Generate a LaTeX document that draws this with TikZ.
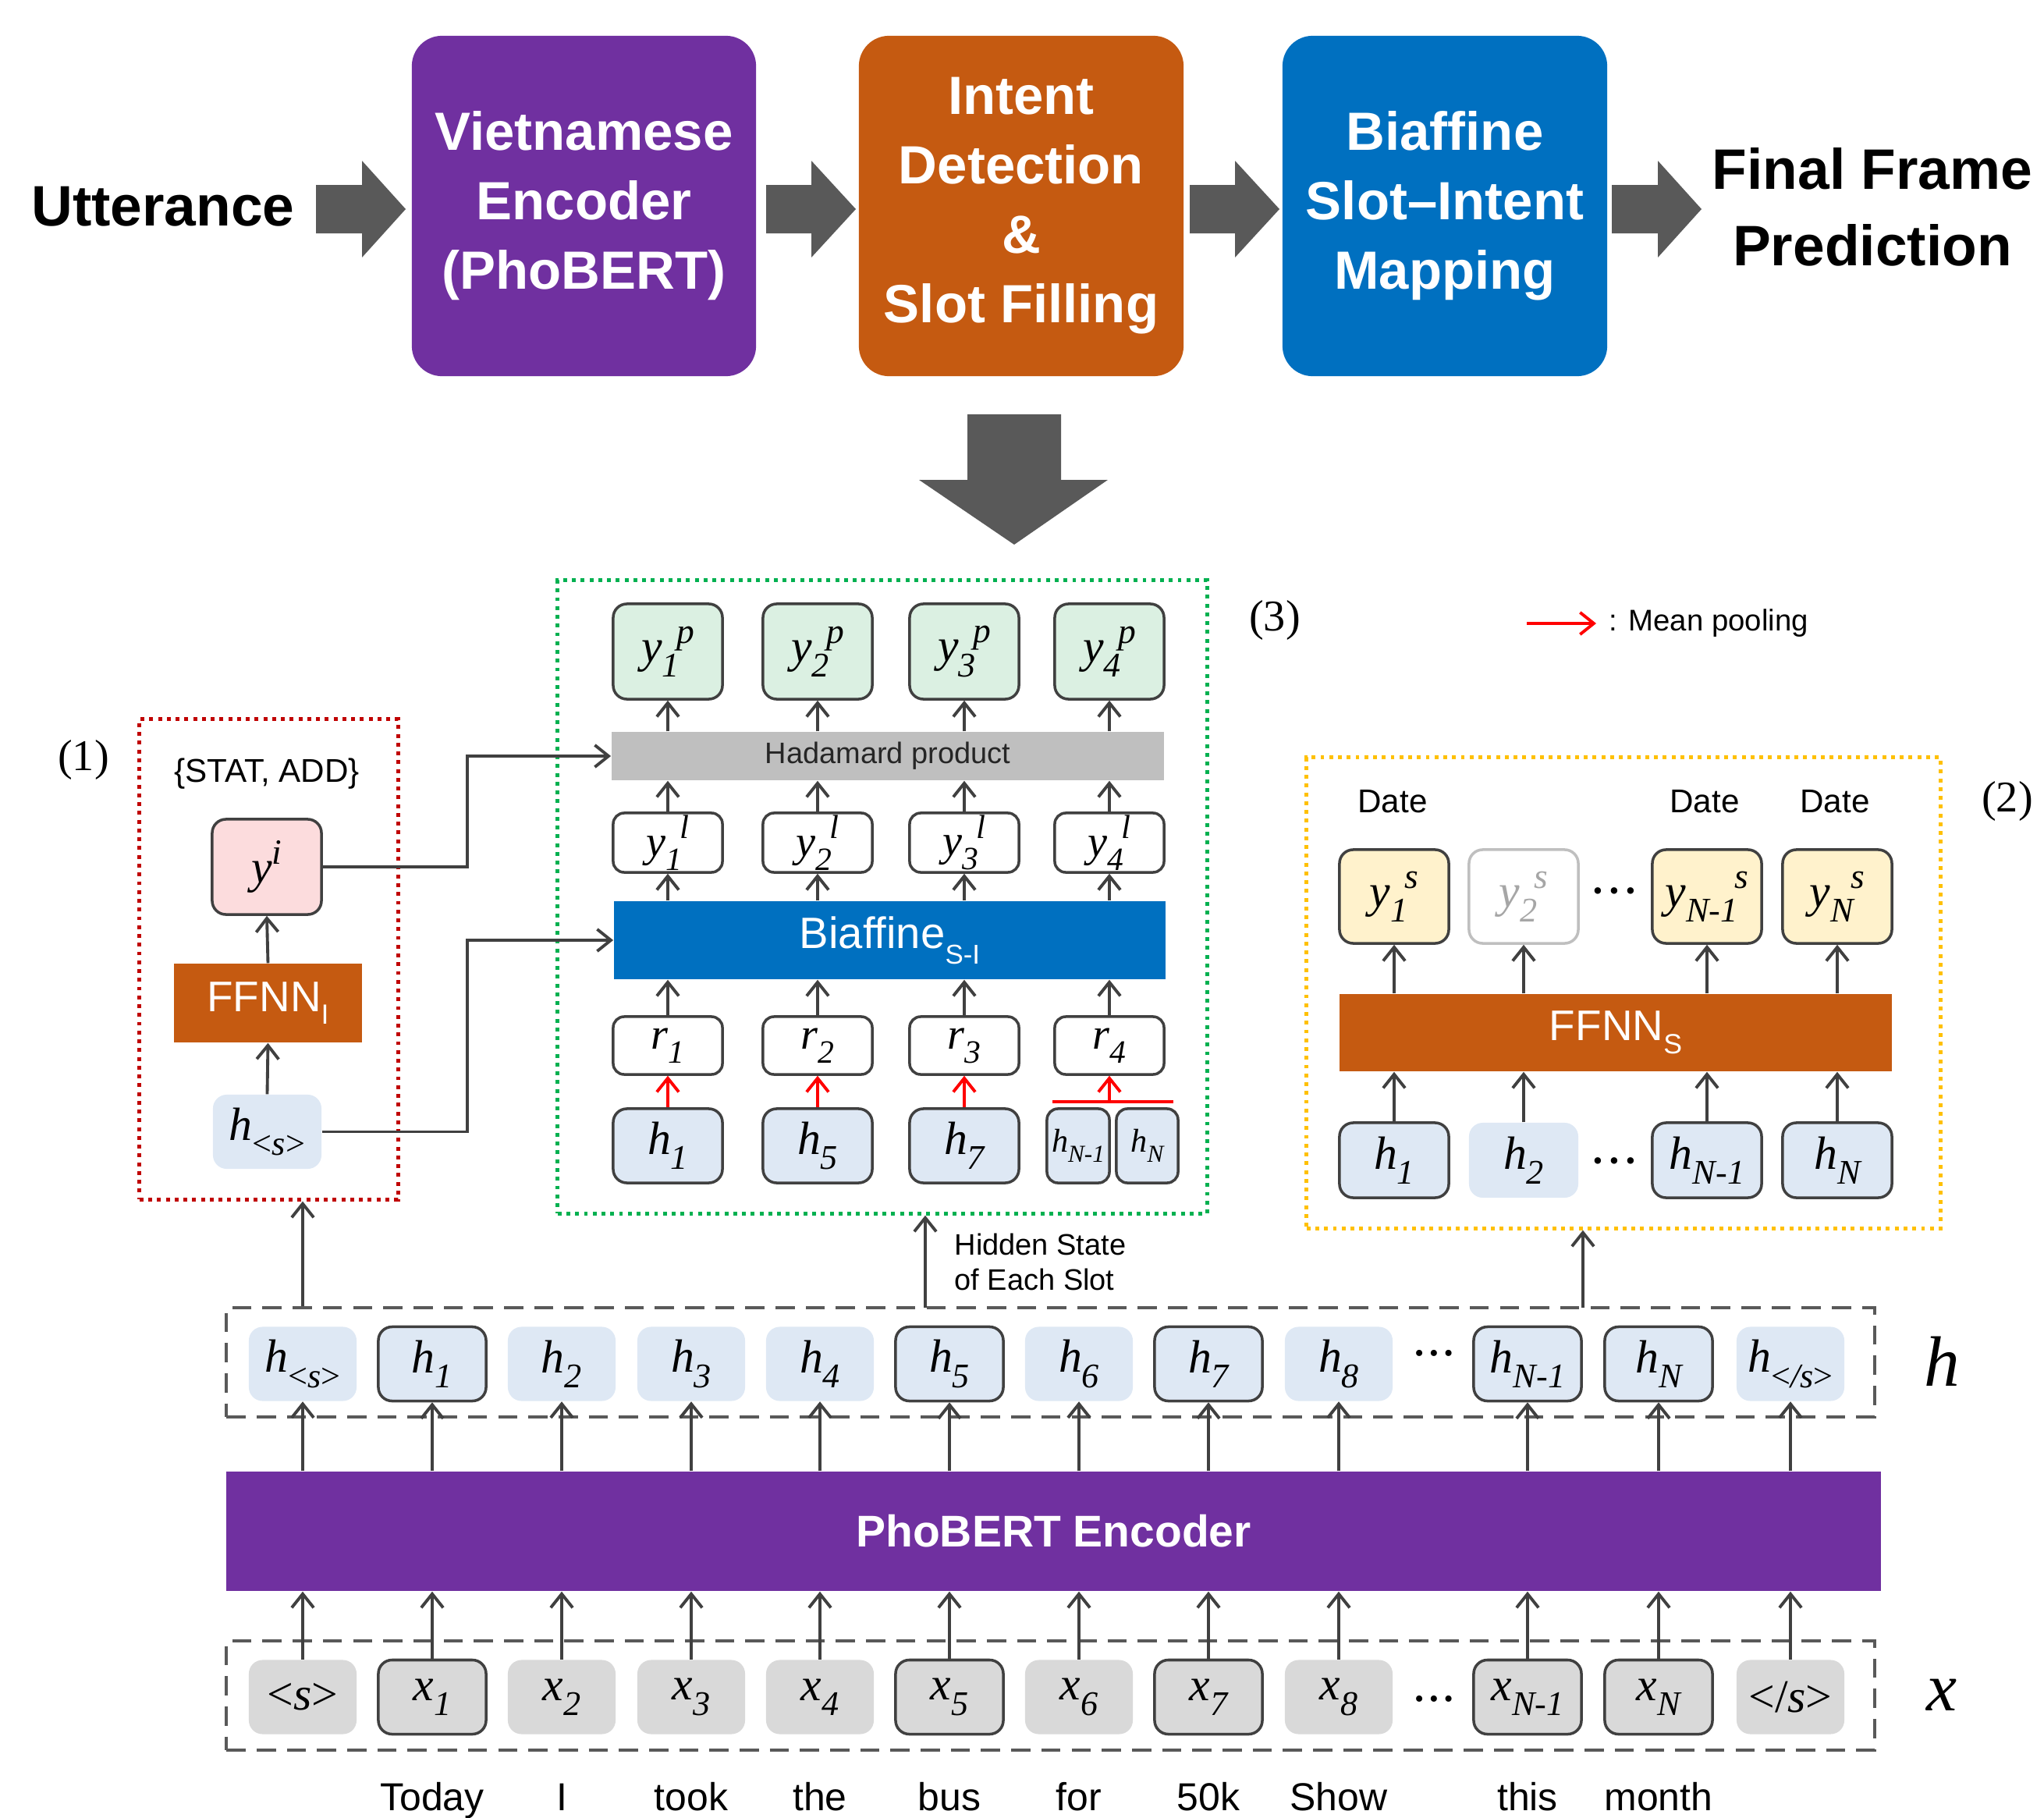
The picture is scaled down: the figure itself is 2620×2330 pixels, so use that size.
\documentclass[tikz,border=0pt]{standalone}
\usepackage{fontspec}
\setmainfont{Liberation Serif}
\setsansfont{Liberation Sans}
\usepackage{graphicx}
\usetikzlibrary{arrows.meta}

\definecolor{purp}{HTML}{7030A0}
\definecolor{orng}{HTML}{C55A11}
\definecolor{blu}{HTML}{0070C0}
\definecolor{agray}{HTML}{595959}
\definecolor{lgray}{HTML}{404040}
\definecolor{hfill}{HTML}{DEE8F4}
\definecolor{xfill}{HTML}{D9D9D9}
\definecolor{pfill}{HTML}{DBF0E2}
\definecolor{ifill}{HTML}{FCDCDD}
\definecolor{sfill}{HTML}{FFF2CC}
\definecolor{hadg}{HTML}{BFBFBF}
\definecolor{tgray}{HTML}{A6A6A6}
\definecolor{redd}{HTML}{C00000}
\definecolor{grn}{HTML}{00B050}
\definecolor{ylw}{HTML}{FFC000}
\definecolor{mred}{HTML}{FF0000}

\newcommand\Sb[1]{\raisebox{-0.32em}{\scalebox{0.74}{\itshape #1}}}
\newcommand\Sp[1]{\raisebox{0.40em}{\scalebox{0.76}{\itshape #1}}}
\newcommand\VS[2]{\textit{#1}\Sb{#2}}
\newcommand\VSP[3]{\textit{#1}\Sb{#2}\kern-0.06em\Sp{#3}}
\newcommand\BlkArr[3]{\fill[agray] (#1,237) -- (#2,237) -- (#2,206) -- (#3,268) -- (#2,330) -- (#2,299) -- (#1,299) -- cycle;}

\begin{document}
\begin{tikzpicture}[x=0.01cm,y=-0.01cm,
  topbox/.style={rounded corners=11pt, text=white, align=center, inner sep=0,
    font=\sffamily\bfseries\fontsize{19.6}{25.3}\selectfont},
  toptext/.style={align=center, inner sep=0, font=\sffamily\bfseries\fontsize{20.8}{27.9}\selectfont},
  cellbox/.style={rounded corners=5pt, inner sep=0, font=\fontsize{17}{17}\selectfont},
  bordered/.style={draw=lgray, line width=1pt},
  hcell/.style={cellbox, fill=hfill, minimum width=1.38cm, minimum height=0.95cm},
  xcell/.style={cellbox, fill=xfill, minimum width=1.38cm, minimum height=0.95cm},
  arr/.style={draw=lgray, line width=1.1pt, -{Straight Barb[length=5pt,width=8pt]}},
  redarr/.style={draw=mred, line width=1.1pt, -{Straight Barb[length=5pt,width=8pt]}},
  rowbox/.style={draw=agray, line width=1.1pt, dash pattern=on 7pt off 4pt, inner sep=0},
  dotbox/.style={line width=1.4pt, dash pattern=on 1.4pt off 1.8pt, inner sep=0},
  barbox/.style={inner sep=0, text=white, font=\sffamily\fontsize{15.6}{15.6}\selectfont},
  snote/.style={inner sep=0, font=\sffamily\fontsize{12}{12}\selectfont},
  sword/.style={inner sep=0, font=\sffamily\fontsize{14.2}{14.2}\selectfont},
  plab/.style={inner sep=0, font=\fontsize{16}{16}\selectfont},
  dotsn/.style={inner sep=0, font=\fontsize{10}{10}\selectfont}
]
\useasboundingbox (0,0) rectangle (2620,2330);

% ---------------- top pipeline ----------------
\node[toptext] (utt) at (209,265) {Utterance};
\node[topbox, fill=purp, minimum width=4.41cm, minimum height=4.36cm] (enc) at (748.5,264) {Vietnamese\\Encoder\\(PhoBERT)};
\node[topbox, fill=orng, minimum width=4.16cm, minimum height=4.36cm] (idsf) at (1309,264) {Intent\\Detection\\\&\\Slot Filling};
\node[topbox, fill=blu, minimum width=4.16cm, minimum height=4.36cm] (bsm) at (1852,264) {Biaffine\\Slot–Intent\\Mapping};
\node[toptext] (ffp) at (2400,265) {Final Frame\\Prediction};
\BlkArr{405}{464}{520}
\BlkArr{982}{1040}{1097}
\BlkArr{1525}{1583}{1640}
\BlkArr{2066}{2125}{2181}
\fill[agray] (1240,531) -- (1360,531) -- (1360,615) -- (1420,615) -- (1300,698) -- (1178,615) -- (1240,615) -- cycle;

% ---------------- frames and labels ----------------
\node[dotbox, draw=redd, minimum width=3.31cm, minimum height=6.15cm] (redbox) at (344.5,1229.5) {};
\node[dotbox, draw=grn, minimum width=8.32cm, minimum height=8.11cm] (grnbox) at (1131,1149.5) {};
\node[dotbox, draw=ylw, minimum width=8.12cm, minimum height=6.03cm] (ylwbox) at (2081,1272.5) {};
\node[plab] (lab1) at (107,974) {(1)};
\node[plab] (lab3) at (1634,795) {(3)};
\node[plab] (lab2) at (2573,1027) {(2)};

% legend
\coordinate (lga) at (1957,799);
\coordinate (lgb) at (2046,799);
\draw[redarr] (lga) -- (lgb);
\node[snote, anchor=west, font=\sffamily\fontsize{10.9}{10.9}\selectfont] (lgt) at (2062,799) {: Mean pooling};

% ---------------- (1) intent ----------------
\node[snote] (stat) at (342,992) {\{STAT, ADD\}};
\node[cellbox, bordered, fill=ifill, minimum width=1.40cm, minimum height=1.22cm] (yi) at (342,1111) {\textit{y}\Sp{i}};
\node[barbox, fill=orng, minimum width=2.41cm, minimum height=1.01cm] (ffi) at (343.5,1285.5) {FFNN\raisebox{-0.3em}{\scalebox{0.65}{I}}};
\node[hcell, minimum width=1.39cm] (hsI) at (342.5,1450.5) {\VS{h}{{\upshape<}s{\upshape>}}};
\draw[arr] (hsI.north) -- (ffi.south);
\draw[arr] (ffi.north) -- (yi.south);

% ---------------- (3) biaffine ----------------
\foreach \i/\cx in {1/856,2/1048,3/1236,4/1422}{
  \node[cellbox, bordered, fill=pfill, minimum width=1.40cm, minimum height=1.22cm] (yp\i) at (\cx,835) {\VSP{y}{\i}{p}};
  \node[cellbox, bordered, fill=white, rounded corners=4pt, minimum width=1.40cm, minimum height=0.76cm, font=\fontsize{16}{16}\selectfont] (yl\i) at (\cx,1080) {\VSP{y}{\i}{l}};
  \node[cellbox, bordered, fill=white, rounded corners=4pt, minimum width=1.40cm, minimum height=0.74cm, font=\fontsize{16}{16}\selectfont] (r\i) at (\cx,1340) {\VS{r}{\i}};
}
\node[inner sep=0, fill=hadg, minimum width=7.08cm, minimum height=0.62cm, font=\sffamily\fontsize{10.8}{10.8}\selectfont, text=black!85] (had) at (1138,969) {Hadamard product};
\node[barbox, fill=blu, minimum width=7.07cm, minimum height=1.00cm, font=\sffamily\fontsize{16}{16}\selectfont] (bia) at (1140.5,1205) {Biaffine\raisebox{-0.35em}{\scalebox{0.62}{S-I}}};
\node[hcell, bordered, minimum width=1.40cm] (g1) at (856,1468.5) {\VS{h}{1}};
\node[hcell, bordered, minimum width=1.40cm] (g5) at (1048,1468.5) {\VS{h}{5}};
\node[hcell, bordered, minimum width=1.40cm] (g7) at (1236,1468.5) {\VS{h}{7}};
\node[hcell, bordered, rounded corners=4pt, minimum width=0.80cm, font=\fontsize{12}{12}\selectfont] (gN1) at (1382,1468.5) {\VS{h}{N-1}};
\node[hcell, bordered, rounded corners=4pt, minimum width=0.79cm, font=\fontsize{12}{12}\selectfont] (gN) at (1470.5,1468.5) {\VS{h}{N}};
\foreach \i in {1,2,3,4}{
  \draw[arr] (r\i.north) -- (r\i.north |- bia.south);
  \draw[arr] (r\i.north |- bia.north) -- (yl\i.south);
  \draw[arr] (yl\i.north) -- (yl\i.north |- had.south);
  \draw[arr] (yl\i.north |- had.north) -- (yp\i.south);
}
\draw[redarr] (g1.north) -- (r1.south);
\draw[redarr] (g5.north) -- (r2.south);
\draw[redarr] (g7.north) -- (r3.south);
\coordinate (ml) at (1349,1412);
\coordinate (mr) at (1504,1412);
\draw[mred, line width=1.1pt] (ml) -- (mr);
\draw[redarr] (r4.south |- ml) -- (r4.south);

% connectors from (1) into (3)
\coordinate (jx) at (599,1300);
\draw[arr] (yi.east) -- (yi.east -| jx) |- (had.west);
\draw[arr] (hsI.east) -- (hsI.east -| jx) |- (bia.west);

% ---------------- (2) slots ----------------
\node[snote] (dt1) at (1785,1027) {Date};
\node[snote] (dt3) at (2185,1027) {Date};
\node[snote] (dt4) at (2352,1027) {Date};
\node[cellbox, bordered, fill=sfill, minimum width=1.40cm, minimum height=1.20cm] (ys1) at (1787,1149) {\VSP{y}{1}{s}};
\node[cellbox, draw=hadg, line width=1pt, fill=white, text=tgray, minimum width=1.40cm, minimum height=1.20cm] (ys2) at (1953,1149) {\VSP{y}{2}{s}};
\node[cellbox, bordered, fill=sfill, minimum width=1.40cm, minimum height=1.20cm] (ys3) at (2188,1149) {\VSP{y}{N-1}{s}};
\node[cellbox, bordered, fill=sfill, minimum width=1.40cm, minimum height=1.20cm] (ys4) at (2355,1149) {\VSP{y}{N}{s}};
\node[barbox, fill=orng, minimum width=7.08cm, minimum height=0.99cm] (ffs) at (2071,1323.5) {FFNN\raisebox{-0.3em}{\scalebox{0.65}{S}}};
\node[hcell, bordered, minimum width=1.40cm, minimum height=0.96cm] (k1) at (1787,1487) {\VS{h}{1}};
\node[hcell, minimum width=1.40cm, minimum height=0.96cm] (k2) at (1953,1487) {\VS{h}{2}};
\node[hcell, bordered, minimum width=1.40cm, minimum height=0.96cm] (k3) at (2188,1487) {\VS{h}{N-1}};
\node[hcell, bordered, minimum width=1.40cm, minimum height=0.96cm] (k4) at (2355,1487) {\VS{h}{N}};
\node[dotsn] (dy) at (2069,1146) {\textbullet\hspace{2.5pt}\textbullet\hspace{2.5pt}\textbullet};
\node[dotsn] (dk) at (2069,1492) {\textbullet\hspace{2.5pt}\textbullet\hspace{2.5pt}\textbullet};
\foreach \i in {1,2,3,4}{
  \draw[arr] (k\i.north) -- (k\i.north |- ffs.south);
  \draw[arr] (k\i.north |- ffs.north) -- (ys\i.south);
}

% ---------------- encoder rows ----------------
\node[rowbox, minimum width=21.11cm, minimum height=1.40cm] (hrow) at (1346.5,1746) {};
\node[rowbox, minimum width=21.11cm, minimum height=1.40cm] (xrow) at (1346.5,2173) {};
\node[inner sep=0, fill=purp, text=white, minimum width=21.19cm, minimum height=1.53cm, font=\sffamily\bfseries\fontsize{16.2}{16.2}\selectfont] (pho) at (1350.5,1962.5) {PhoBERT Encoder};

% h row
\node[hcell] (hs) at (388,1748) {\VS{h}{{\upshape<}s{\upshape>}}};
\node[hcell, bordered] (h1) at (554,1748) {\VS{h}{1}};
\node[hcell] (h2) at (720,1748) {\VS{h}{2}};
\node[hcell] (h3) at (886,1748) {\VS{h}{3}};
\node[hcell] (h4) at (1051,1748) {\VS{h}{4}};
\node[hcell, bordered] (h5) at (1217,1748) {\VS{h}{5}};
\node[hcell] (h6) at (1383,1748) {\VS{h}{6}};
\node[hcell, bordered] (h7) at (1549,1748) {\VS{h}{7}};
\node[hcell] (h8) at (1716,1748) {\VS{h}{8}};
\node[dotsn, font=\fontsize{9.5}{9.5}\selectfont] (hd) at (1838,1738) {\textbullet\hspace{2pt}\textbullet\hspace{2pt}\textbullet};
\node[hcell, bordered] (hN1) at (1958,1748) {\VS{h}{N-1}};
\node[hcell, bordered] (hN) at (2126,1748) {\VS{h}{N}};
\node[hcell] (he) at (2295,1748) {\VS{h}{{\upshape<}/s{\upshape>}}};

% x row
\node[xcell] (xs) at (388,2175) {{\upshape<}\textit{s}{\upshape>}};
\node[xcell, bordered] (x1) at (554,2175) {\VS{x}{1}};
\node[xcell] (x2) at (720,2175) {\VS{x}{2}};
\node[xcell] (x3) at (886,2175) {\VS{x}{3}};
\node[xcell] (x4) at (1051,2175) {\VS{x}{4}};
\node[xcell, bordered] (x5) at (1217,2175) {\VS{x}{5}};
\node[xcell] (x6) at (1383,2175) {\VS{x}{6}};
\node[xcell, bordered] (x7) at (1549,2175) {\VS{x}{7}};
\node[xcell] (x8) at (1716,2175) {\VS{x}{8}};
\node[dotsn, font=\fontsize{9.5}{9.5}\selectfont] (xd) at (1838,2181) {\textbullet\hspace{2pt}\textbullet\hspace{2pt}\textbullet};
\node[xcell, bordered] (xN1) at (1958,2175) {\VS{x}{N-1}};
\node[xcell, bordered] (xN) at (2126,2175) {\VS{x}{N}};
\node[xcell] (xe) at (2295,2175) {{\upshape<}/\textit{s}{\upshape>}};

\foreach \n in {s,1,2,3,4,5,6,7,8,N1,N,e}{
  \draw[arr] (x\n.north) -- (x\n.north |- pho.south);
  \draw[arr] (x\n.north |- pho.north) -- (h\n.south);
}

\node[inner sep=0, font=\fontsize{26}{26}\selectfont\itshape] (hlab) at (2489,1745) {h};
\node[inner sep=0, font=\fontsize{25}{25}\selectfont\itshape] (xlab) at (2489,2172) {x};

% words
\foreach \n/\w in {1/Today,2/I,3/took,4/the,5/bus,6/for,7/50k,8/Show,N1/this,N/month}{
  \node[sword, anchor=base] (w\n) at (x\n.center |- 0,2320) {\w};
}

% connectors from h row to the three modules
\draw[arr] (hs.center |- hrow.north) -- (hs.center |- redbox.south);
\coordinate (hsa) at (1186,1676);
\draw[arr] (hsa) -- (hsa |- grnbox.south);
\coordinate (hsb) at (2029,1676);
\draw[arr] (hsb) -- (hsb |- ylwbox.south);
\node[inner sep=0, anchor=north west, align=left, font=\sffamily\fontsize{10.8}{12.8}\selectfont] (hstate) at (1223,1580) {Hidden State\\of Each Slot};

\end{tikzpicture}
\end{document}
